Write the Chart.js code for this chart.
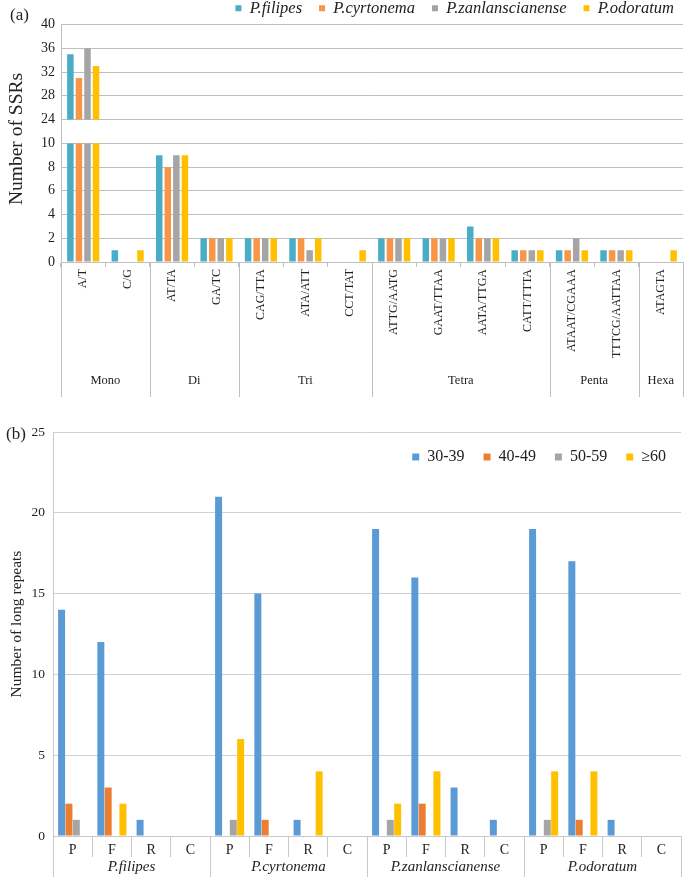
<!DOCTYPE html>
<html>
<head>
<meta charset="utf-8">
<script src="https://cdn.jsdelivr.net/npm/chart.js@4.4.1/dist/chart.umd.min.js"></script>
<style>
  body { margin: 0; background: #fff; }
  #page { position: relative; width: 685px; height: 877px; overflow: hidden; font-family: 'Liberation Serif', serif; color: #222; }
  canvas { position: absolute; left: 0; }
  #chartA { top: -19px; }
  #chartB { top: 387px; }
  .lbl { position: absolute; font-size: 17px; }
  .ytitle { position: absolute; white-space: nowrap; transform: translate(-50%, -50%) rotate(-90deg); }
</style>
</head>
<body>
<div id="page">
  <canvas id="chartA" width="685" height="419"></canvas>
  <canvas id="chartB" width="685" height="490"></canvas>
  <div class="lbl" style="left:10px;top:5px">(a)</div>
  <div class="lbl" style="left:6px;top:424px">(b)</div>
  <div class="ytitle" style="left:16px;top:139px;font-size:19.5px">Number of SSRs</div>
  <div class="ytitle" style="left:16px;top:624px;font-size:15.5px">Number of long repeats</div>
</div>
<script>
// ---- panel (a): SSR motifs ----
const motifs = ['A/T', 'C/G', 'AT/TA', 'GA/TC', 'CAG/TTA', 'ATA/ATT', 'CCT/TAT',
  'ATTG/AATG', 'GAAT/TTAA', 'AATA/TTGA', 'CATT/TTTA', 'ATAAT/CGAAA', 'TTTCG/AATTAA', 'ATAGTA'];
const motifGroups = ['Mono', 'Di', 'Tri', 'Tetra', 'Penta', 'Hexa'];
const motifGroupSizes = [2, 2, 3, 4, 2, 1];
const species = ['P.filipes', 'P.cyrtonema', 'P.zanlanscianense', 'P.odoratum'];
const ssrFilipes = [35, 1, 9, 2, 2, 2, 0, 2, 2, 3, 1, 1, 1, 0];
const ssrCyrtonema = [31, 0, 8, 2, 2, 2, 0, 2, 2, 2, 1, 1, 1, 0];
const ssrZanlanscianense = [36, 0, 9, 2, 2, 1, 0, 2, 2, 2, 1, 2, 1, 0];
const ssrOdoratum = [33, 1, 9, 2, 2, 2, 1, 2, 2, 2, 1, 1, 1, 1];
const ssrColors = ['#4BACC6', '#F79646', '#A5A5A5', '#FFC000'];
const lowTicksMax = 10;   // lower part of broken axis: 0-10
const highTicksMin = 24;  // upper part: 24-40
const highTicksMax = 40;

// ---- panel (b): long repeats ----
const repeatTypes = ['P', 'F', 'R', 'C'];
const sizeClasses = ['30-39', '40-49', '50-59', '\u226560'];
// per species, P F R C
const rep30 = [14, 12, 1, 0, 21, 15, 1, 0, 19, 16, 3, 1, 19, 17, 1, 0];
const rep40 = [2, 3, 0, 0, 0, 1, 0, 0, 0, 2, 0, 0, 0, 1, 0, 0];
const rep50 = [1, 0, 0, 0, 1, 0, 0, 0, 1, 0, 0, 0, 1, 0, 0, 0];
const rep60 = [0, 2, 0, 0, 6, 0, 4, 0, 2, 4, 0, 0, 4, 4, 0, 0];
const repColors = ['#5B9BD5', '#ED7D31', '#A5A5A5', '#FFC000'];

Chart.defaults.font.family = "'Liberation Serif', serif";
Chart.defaults.color = '#222';

// move the legend after layout so it does not steal room from the plot
const legendShift = {
  id: 'legendShift',
  afterLayout(chart, args, opts) {
    const lg = chart.legend;
    if (!lg) return;
    lg.top += opts.dy || 0; lg.bottom += opts.dy || 0;
    lg.left += opts.dx || 0; lg.right += opts.dx || 0;
  }
};

// second level of x labels with separators
const groupLabels = {
  id: 'groupLabels',
  afterDraw(chart, args, opts) {
    const x = chart.scales.x;
    const {ctx, chartArea} = chart;
    const step = x.getPixelForValue(1) - x.getPixelForValue(0);
    const edges = [];
    let idx = 0;
    ctx.save();
    ctx.font = opts.font;
    ctx.fillStyle = '#222';
    ctx.textAlign = 'center';
    ctx.textBaseline = 'middle';
    opts.names.forEach((name, k) => {
      const n = opts.sizes[k];
      const left = x.getPixelForValue(idx) - step / 2;
      const right = x.getPixelForValue(idx + n - 1) + step / 2;
      ctx.fillText(name, (left + right) / 2, chartArea.bottom + opts.textOffset);
      edges.push(left);
      if (k === opts.names.length - 1) edges.push(right);
      idx += n;
    });
    ctx.strokeStyle = opts.lineColor;
    ctx.lineWidth = 1;
    edges.forEach(e => {
      const px = Math.round(e) + 0.5;
      ctx.beginPath();
      ctx.moveTo(px, chartArea.bottom);
      ctx.lineTo(px, chartArea.bottom + opts.lineLength);
      ctx.stroke();
    });
    ctx.restore();
  }
};

const ssrSeries = [ssrFilipes, ssrCyrtonema, ssrZanlanscianense, ssrOdoratum];
const ssrLow = ssrSeries.map((vals, i) => ({
  label: species[i],
  data: vals.map(v => Math.min(v, lowTicksMax)),
  backgroundColor: ssrColors[i],
  yAxisID: 'yLow',
  stack: 's' + i
}));
const ssrHigh = ssrSeries.map((vals, i) => ({
  label: species[i] + ' (high)',
  data: vals.map(v => v > highTicksMin ? [highTicksMin, v] : null),
  backgroundColor: ssrColors[i],
  yAxisID: 'yHigh',
  stack: 's' + i
}));

new Chart(document.getElementById('chartA'), {
  type: 'bar',
  data: { labels: motifs, datasets: ssrLow.concat(ssrHigh) },
  plugins: [legendShift, groupLabels],
  options: {
    responsive: false,
    animation: false,
    layout: { padding: { left: 0, right: 2, top: 0, bottom: 0 } },
    datasets: { bar: { categoryPercentage: 0.77, barPercentage: 0.76 } },
    plugins: {
      tooltip: { enabled: false },
      legend: {
        position: 'top',
        align: 'end',
        labels: {
          filter: item => item.datasetIndex < 4,
          boxWidth: 6, boxHeight: 6, padding: 17,
          font: { size: 16.5, style: 'italic' }
        }
      },
      legendShift: { dy: 2, dx: 8 },
      groupLabels: {
        names: motifGroups, sizes: motifGroupSizes,
        font: "12.5px 'Liberation Serif', serif",
        textOffset: 119, lineLength: 135, lineColor: '#bfbfbf'
      }
    },
    scales: {
      x: {
        grid: { drawOnChartArea: false, tickLength: 5, color: '#bfbfbf' },
        border: { color: '#bfbfbf' },
        ticks: { autoSkip: false, minRotation: 90, maxRotation: 90, padding: 2, font: { size: 12 } },
        afterFit(s) { s.height = 138; }
      },
      yLow: {
        position: 'left', stack: 'v', stackWeight: 1,
        min: 0, max: lowTicksMax,
        ticks: { stepSize: 2, font: { size: 14 }, padding: 6 },
        grid: { color: '#bfbfbf', drawTicks: false },
        border: { color: '#bfbfbf' },
        afterFit(s) { s.width = 61; }
      },
      yHigh: {
        position: 'left', stack: 'v', stackWeight: 1,
        min: 20, max: highTicksMax,
        ticks: { stepSize: 4, font: { size: 14 }, padding: 6, callback: v => v < highTicksMin ? '' : v },
        grid: { color: c => (c.tick && c.tick.value < highTicksMin) ? 'rgba(0,0,0,0)' : '#bfbfbf', drawTicks: false },
        border: { color: '#bfbfbf' },
        afterFit(s) { s.width = 61; }
      }
    }
  }
});

// ---- chart (b) ----
const repLabels = [];
species.forEach(() => repeatTypes.forEach(t => repLabels.push(t)));
const repSeries = [rep30, rep40, rep50, rep60];

new Chart(document.getElementById('chartB'), {
  type: 'bar',
  data: {
    labels: repLabels,
    datasets: repSeries.map((vals, i) => ({
      label: sizeClasses[i],
      data: vals,
      backgroundColor: repColors[i]
    }))
  },
  plugins: [legendShift, groupLabels],
  options: {
    responsive: false,
    animation: false,
    layout: { padding: { left: 0, right: 4, top: 0, bottom: 0 } },
    datasets: { bar: { categoryPercentage: 0.75, barPercentage: 0.95 } },
    plugins: {
      tooltip: { enabled: false },
      legend: {
        position: 'top',
        align: 'end',
        labels: { boxWidth: 7, boxHeight: 7, padding: 19, font: { size: 16 } }
      },
      legendShift: { dy: 43, dx: 4 },
      groupLabels: {
        names: species, sizes: species.map(() => repeatTypes.length),
        font: "italic 15px 'Liberation Serif', serif",
        textOffset: 31, lineLength: 41, lineColor: '#c8c8c8'
      }
    },
    scales: {
      x: {
        grid: { drawOnChartArea: false, tickLength: 21, color: '#c8c8c8' },
        border: { color: '#c8c8c8' },
        ticks: { padding: -15, font: { size: 14 } },
        afterFit(s) { s.height = 41; }
      },
      y: {
        min: 0, max: 25,
        ticks: { stepSize: 5, font: { size: 13.5 }, padding: 8 },
        grid: { color: '#d0d0d0', drawTicks: false },
        border: { color: '#c8c8c8' },
        afterFit(s) { s.width = 53; }
      }
    }
  }
});
</script>
</body>
</html>
